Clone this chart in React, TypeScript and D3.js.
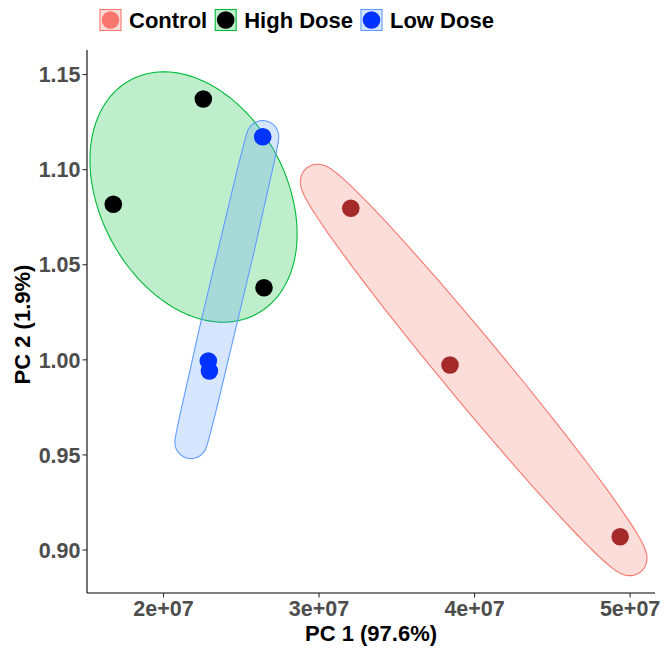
import React from 'react';
import * as d3 from 'd3';

// ---- data ----
const groups = ['Control', 'High Dose', 'Low Dose'];
const pc1Control = [3.204e7, 3.842e7, 4.936e7];
const pc2Control = [1.0797, 0.9973, 0.907];
const pc1High = [2.256e7, 1.677e7, 2.646e7];
const pc2High = [1.1371, 1.0818, 1.0379];
const pc1Low = [2.638e7, 2.288e7, 2.295e7];
const pc2Low = [1.1173, 0.9994, 0.9941];

const xTicks = [2e7, 3e7, 4e7, 5e7];
const xTickLabels = ['2e+07', '3e+07', '4e+07', '5e+07'];
const yTicks = [0.9, 0.95, 1.0, 1.05, 1.1, 1.15];
const yTickLabels = ['0.90', '0.95', '1.00', '1.05', '1.10', '1.15'];

const markColors = ['#F8766D', '#00BA38', '#619CFF'];
const pointColors = ['#A52A2A', '#000000', '#0033FF'];
const keyPointColors = ['#F8766D', '#000000', '#0033FF'];

const xTitle = 'PC 1 (97.6%)';
const yTitle = 'PC 2 (1.9%)';

// ---- layout ----
const W = 664;
const H = 648;
const panel = { left: 87, right: 655, top: 50, bottom: 593 };
const FONT = "'Liberation Sans', Arial, Helvetica, sans-serif";
const R = 8.8;
const EXPAND = 16;

const x = d3.scaleLinear().domain([1.508e7, 5.16e7]).range([panel.left, panel.right]);
const y = d3.scaleLinear().domain([0.8774, 1.1629]).range([panel.bottom, panel.top]);

const series = [
  { xs: pc1Control, ys: pc2Control },
  { xs: pc1High, ys: pc2High },
  { xs: pc1Low, ys: pc2Low },
];

// Minimum-area enclosing ellipse of 3 points (Steiner circumellipse), expanded outward by d
function markEllipse(pts: [number, number][], d: number): string {
  const [A, B, C] = pts;
  const G = [(A[0] + B[0] + C[0]) / 3, (A[1] + B[1] + C[1]) / 3];
  const s = Math.sqrt(3);
  // M = [u v], X(c) = G + M c, |c| = 1
  const u = [C[0] - G[0], C[1] - G[1]];
  const v = [(B[0] - A[0]) / s, (B[1] - A[1]) / s];
  const out: [number, number][] = [];
  const N = 360;
  for (let i = 0; i < N; i++) {
    const th = (i / N) * Math.PI * 2;
    const nx = Math.cos(th), ny = Math.sin(th);
    // support point in direction n: c = M^T n / |M^T n|
    let c0 = u[0] * nx + u[1] * ny;
    let c1 = v[0] * nx + v[1] * ny;
    const l = Math.hypot(c0, c1) || 1;
    c0 /= l; c1 /= l;
    const px = G[0] + u[0] * c0 + v[0] * c1;
    const py = G[1] + u[1] * c0 + v[1] * c1;
    out.push([px + nx * d, py + ny * d]);
  }
  return d3.line().curve(d3.curveLinearClosed)(out) || '';
}

function measure(text: string, font: string, fallback: number): number {
  try {
    const c = document.createElement('canvas').getContext('2d');
    if (!c) return fallback;
    c.font = font;
    return c.measureText(text).width;
  } catch (e) {
    return fallback;
  }
}

export default function App() {
  const legendFont = `bold 22px ${FONT}`;
  let lx = 100;
  const legendItems = groups.map((g, i) => {
    const item = { x: lx, label: g, i };
    const w = measure(g, legendFont, g.length * 12);
    lx = lx + 29 + w + 8;
    return item;
  });

  return (
    <svg width={W} height={H} style={{ position: 'absolute', left: 0, top: 0, background: '#fff' }}>
      <rect x={0} y={0} width={W} height={H} fill="#fff" />
      {/* ellipses */}
      {series.map((s, i) => {
        const pts = s.xs.map((v, j) => [x(v), y(s.ys[j])] as [number, number]);
        return (
          <path key={'e' + i} d={markEllipse(pts, EXPAND)} fill={markColors[i]} fillOpacity={0.25}
            stroke={markColors[i]} strokeWidth={1.1} />
        );
      })}
      {/* points */}
      {series.map((s, i) =>
        s.xs.map((v, j) => (
          <circle key={'p' + i + '-' + j} cx={x(v)} cy={y(s.ys[j])} r={R} fill={pointColors[i]} />
        ))
      )}
      {/* axes */}
      <line x1={panel.left} x2={panel.left} y1={panel.top} y2={panel.bottom} stroke="#000" strokeWidth={1.1} />
      <line x1={panel.left} x2={panel.right} y1={panel.bottom} y2={panel.bottom} stroke="#000" strokeWidth={1.1} />
      {yTicks.map((t, i) => (
        <g key={'yt' + i}>
          <line x1={panel.left - 4.5} x2={panel.left} y1={y(t)} y2={y(t)} stroke="#333" strokeWidth={1.1} />
          <text x={panel.left - 6.5} y={y(t)} dy="0.36em" textAnchor="end" fontFamily={FONT} fontWeight="bold"
            fontSize={21.5} fill="#4D4D4D">{yTickLabels[i]}</text>
        </g>
      ))}
      {xTicks.map((t, i) => (
        <g key={'xt' + i}>
          <line x1={x(t)} x2={x(t)} y1={panel.bottom} y2={panel.bottom + 4.5} stroke="#333" strokeWidth={1.1} />
          <text x={x(t)} y={panel.bottom + 23} textAnchor="middle" fontFamily={FONT} fontWeight="bold"
            fontSize={21.5} fill="#4D4D4D">{xTickLabels[i]}</text>
        </g>
      ))}
      <text x={(panel.left + panel.right) / 2} y={641} textAnchor="middle" fontFamily={FONT} fontWeight="bold"
        fontSize={22} fill="#000">{xTitle}</text>
      <text transform={`translate(30,${(panel.top + panel.bottom) / 2 + 3}) rotate(-90)`} textAnchor="middle"
        fontFamily={FONT} fontWeight="bold" fontSize={22} fill="#000">{yTitle}</text>
      {/* legend */}
      {legendItems.map((it) => (
        <g key={'l' + it.i}>
          <rect x={it.x} y={9.5} width={21} height={21} fill={markColors[it.i]} fillOpacity={0.25}
            stroke={markColors[it.i]} strokeWidth={1.1} />
          <circle cx={it.x + 10.5} cy={20} r={R} fill={keyPointColors[it.i]} />
          <text x={it.x + 29} y={27.5} fontFamily={FONT} fontWeight="bold" fontSize={22} fill="#000">{it.label}</text>
        </g>
      ))}
    </svg>
  );
}
